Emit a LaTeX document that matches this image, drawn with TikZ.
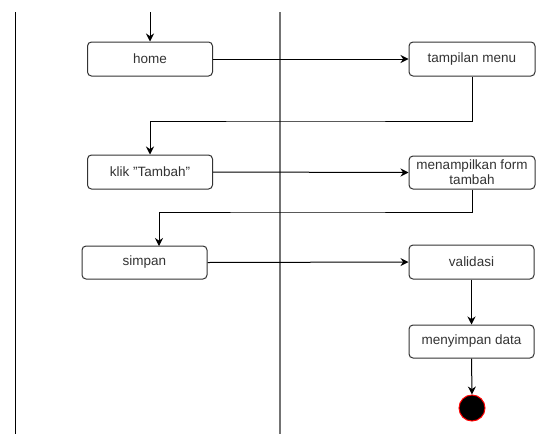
\documentclass[tikz,border=0pt]{standalone}
\usepackage{fontspec}
\setmainfont{Liberation Sans}
\usetikzlibrary{positioning}
\usetikzlibrary{arrows.meta}
\usetikzlibrary{calc}

\begin{document}
\begin{tikzpicture}[x=1pt,y=1pt,
    act/.style={draw=black!80, line width=1pt, rounded corners=4pt, fill=white,
        text=black!80, font=\fontsize{13.5}{15}\selectfont, align=center,
        minimum width=125pt, minimum height=34pt, inner sep=1pt},
    panah/.style={line width=1pt, -{Stealth[length=8pt,width=8pt]}}]

    \useasboundingbox (0,-434) rectangle (540,0);

    \draw[black, line width=1pt] (15,-12) -- (15,-434);
    \draw[black!55, line width=2pt] (280,-12) -- (280,-434);

    \node[act] (home) at (150,-59) {home};
    \node[act, minimum width=126pt] (menu) at (472,-59) {tampilan menu};
    \node[act] (klik) at (150,-172) {klik \symbol{34}Tambah\symbol{34}};
    \node[act, minimum width=126pt, minimum height=33pt] (form) at (472,-172.5) {menampilkan form\\tambah};
    \node[act, minimum height=33pt] (simpan) at (144.5,-262.5) {simpan};
    \node[act] (validasi) at (471.5,-262) {validasi};
    \node[act, minimum height=33pt] (menyimpan) at (471.5,-341.5) {menyimpan data};
    \node[circle, draw=red, fill=black, line width=1pt, minimum size=26pt, inner sep=0pt] (selesai) at (472,-408) {};

    \coordinate (mulai) at (150,-12);
    \coordinate (belok1) at (300,-121);
    \coordinate (belok2) at (300,-212);
    \coordinate (masukSimpan) at (159,-246);

    \draw[panah] (mulai) -- ($(home.north)$);
    \draw[panah] (home.east) -- ($(menu.west)$);
    \draw[panah] (menu.south) |- (belok1) -| ($(klik.north)$);
    \draw[panah] (klik.east) -- ($(form.west)$);
    \draw[panah] (form.south) |- (belok2) -| (masukSimpan);
    \draw[panah] (simpan.east) -- ($(validasi.west)$);
    \draw[panah] (validasi.south) -- ($(menyimpan.north)$);
    \draw[panah] (menyimpan.south) -- ($(selesai.north)$);

\end{tikzpicture}
\end{document}
